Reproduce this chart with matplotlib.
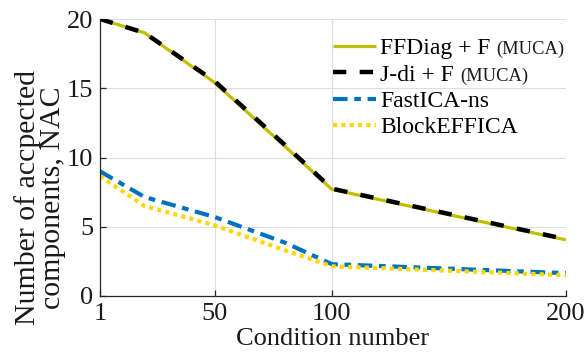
import matplotlib
matplotlib.use("Agg")
import matplotlib.pyplot as plt

# ---- data ----
cond = [1, 20, 50, 80, 100, 200]
ffdiag = [20.0, 19.0, 15.4, 10.8, 7.7, 4.05]
jdi = [20.0, 19.0, 15.5, 10.9, 7.75, 4.1]
fastica = [9.0, 7.15, 5.7, 3.85, 2.3, 1.65]
blockefica = [8.65, 6.5, 5.1, 3.3, 2.15, 1.5]

labels = ["FFDiag + F", "J-di + F", "FastICA-ns", "BlockEFFICA"]
label_suffix = ["(MUCA)", "(MUCA)", "", ""]
xticks = [1, 50, 100, 200]
yticks = [0, 5, 10, 15, 20]

plt.rcParams['font.family'] = ['Liberation Serif', 'DejaVu Serif']

W, H, DPI = 586, 360, 100
fig = plt.figure(figsize=(W / DPI, H / DPI), dpi=DPI)
ax = fig.add_axes([100 / W, 1 - 296 / H, 466 / W, 277 / H])

axc = '#262626'
l1, = ax.plot(cond, ffdiag, color='#BFBF00', lw=2.3, solid_capstyle='butt')
l2, = ax.plot(cond, jdi, color='black', lw=3.2, dashes=(3.0, 3.0))
l3, = ax.plot(cond, fastica, color='#0072BD', lw=3.0, dashes=(3.5, 1.6, 1.6, 1.6))
l4, = ax.plot(cond, blockefica, color='#FFD700', lw=3.0, dashes=(1.0, 1.0))

ax.set_xlim(1, 200)
ax.set_ylim(0, 20)
ax.set_xticks(xticks)
ax.set_yticks(yticks)
ax.grid(True, color='#dedede', lw=0.8)
ax.set_axisbelow(True)
for s in ['top', 'right']:
    ax.spines[s].set_visible(False)
for s in ['left', 'bottom']:
    ax.spines[s].set_color(axc)
    ax.spines[s].set_linewidth(0.9)
ax.tick_params(direction='in', length=4, width=0.9, color=axc, labelcolor='#1a1a1a',
               labelsize=19)
ax.tick_params(axis='y', pad=5)
ax.tick_params(axis='x', pad=5)

ax.set_xlabel('Condition number', fontsize=19, color='#1a1a1a', labelpad=2)
ax.set_ylabel('Number of accpected\ncomponents, NAC', fontsize=21.5, color='#1a1a1a',
              linespacing=0.92)
ax.yaxis.set_label_coords(-0.074, 0.355)

leg = ax.legend([l1, l2, l3, l4], labels, loc='upper left',
                bbox_to_anchor=(0.50, 0.932), frameon=False, fontsize=17,
                handlelength=1.8, handletextpad=0.2, labelspacing=0.2,
                borderpad=0, borderaxespad=0)

fig.canvas.draw()
for txt, suf in zip(leg.get_texts(), label_suffix):
    if not suf:
        continue
    bb = txt.get_window_extent()
    bx, by = txt.get_transform().transform(txt.get_position())
    fig.text((bb.x1 + 6) / W, by / H, suf, fontsize=13.3, va='baseline',
             ha='left', color='#1a1a1a')

fig.savefig('out.png', dpi=DPI)
